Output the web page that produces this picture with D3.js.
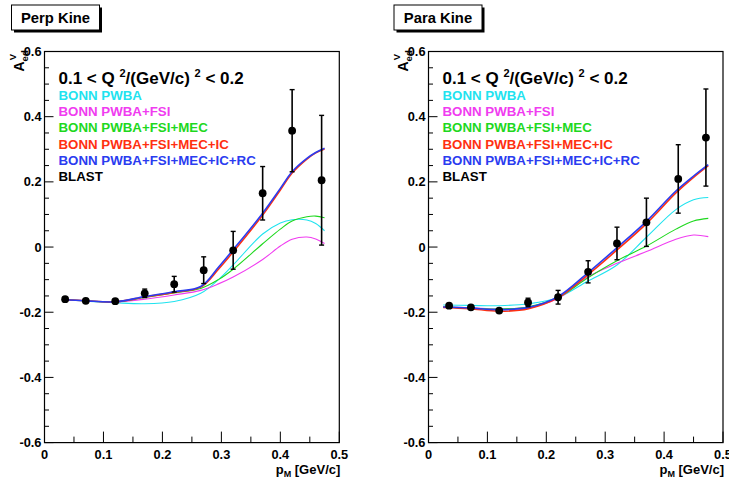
<!DOCTYPE html>
<html>
<head>
<meta charset="utf-8">
<script src="https://cdn.jsdelivr.net/npm/d3@7"></script>
<style>
  html, body { margin: 0; padding: 0; background: #fff; }
  svg { display: block; font-family: "Liberation Sans", Arial, Helvetica, sans-serif; font-weight: bold; }
</style>
</head>
<body>
<div id="chart"></div>
<script>
// ---------------- DATA ----------------
const panelTitles = ["Perp Kine", "Para Kine"];
const legendHeader = ["0.1 < Q ", "2", "/(GeV/c)  ", "2", " < 0.2"];
const seriesNames = ["BONN PWBA", "BONN PWBA+FSI", "BONN PWBA+FSI+MEC", "BONN PWBA+FSI+MEC+IC", "BONN PWBA+FSI+MEC+IC+RC", "BLAST"];
const seriesColors = ["#1fe3ef", "#f03cf0", "#1ed81e", "#ff3010", "#2a3cf0", "#000000"];

const yTickValues = [-0.6, -0.4, -0.2, 0, 0.2, 0.4, 0.6];
const yTickLabels = ["-0.6", "-0.4", "-0.2", "0", "0.2", "0.4", "0.6"];
const xTickValues = [0, 0.1, 0.2, 0.3, 0.4, 0.5];
const xTickLabels = ["0", "0.1", "0.2", "0.3", "0.4", "0.5"];

// Perp kinematics: BLAST data
const perpP   = [0.035, 0.07, 0.12, 0.17, 0.22, 0.27, 0.32, 0.37, 0.42, 0.47];
const perpA   = [-0.160, -0.165, -0.166, -0.142, -0.114, -0.071, -0.010, 0.165, 0.357, 0.205];
const perpErr = [0.004, 0.004, 0.004, 0.013, 0.024, 0.041, 0.058, 0.082, 0.126, 0.199];
// Perp kinematics: BONN curves
const perpCurveP   = [0.03, 0.07, 0.12, 0.17, 0.22, 0.265, 0.295, 0.32, 0.37, 0.40, 0.42, 0.445, 0.46, 0.475];
const perpPWBA     = [-0.161, -0.166, -0.171, -0.174, -0.167, -0.142, -0.100, -0.055, 0.040, 0.074, 0.084, 0.083, 0.072, 0.050];
const perpFSI      = [-0.161, -0.165, -0.168, -0.160, -0.147, -0.133, -0.113, -0.092, -0.038, 0.003, 0.024, 0.031, 0.025, 0.011];
const perpMEC      = [-0.161, -0.165, -0.168, -0.155, -0.141, -0.127, -0.100, -0.068, 0.010, 0.055, 0.080, 0.093, 0.095, 0.090];
const perpIC       = [-0.161, -0.165, -0.168, -0.153, -0.139, -0.123, -0.068, -0.015, 0.098, 0.175, 0.227, 0.270, 0.289, 0.301];
const perpRC       = [-0.161, -0.165, -0.168, -0.152, -0.137, -0.121, -0.062, -0.008, 0.104, 0.180, 0.231, 0.272, 0.290, 0.303];

// Para kinematics: BLAST data
const paraP   = [0.035, 0.072, 0.12, 0.169, 0.22, 0.271, 0.32, 0.37, 0.424, 0.471];
const paraA   = [-0.180, -0.185, -0.195, -0.170, -0.154, -0.076, 0.011, 0.076, 0.209, 0.336];
const paraErr = [0.004, 0.004, 0.005, 0.013, 0.021, 0.034, 0.050, 0.074, 0.105, 0.149];
// Para kinematics: BONN curves
const paraCurveP = [0.025, 0.07, 0.12, 0.17, 0.22, 0.27, 0.32, 0.37, 0.42, 0.45, 0.475];
const paraPWBA   = [-0.178, -0.179, -0.180, -0.174, -0.155, -0.105, -0.055, 0.030, 0.115, 0.145, 0.152];
const paraFSI    = [-0.184, -0.186, -0.190, -0.185, -0.158, -0.092, -0.050, -0.014, 0.024, 0.037, 0.032];
const paraMEC    = [-0.184, -0.187, -0.190, -0.183, -0.155, -0.095, -0.042, 0.003, 0.055, 0.080, 0.088];
const paraIC     = [-0.185, -0.189, -0.197, -0.189, -0.155, -0.086, -0.009, 0.072, 0.166, 0.214, 0.250];
const paraRC     = [-0.184, -0.187, -0.192, -0.185, -0.152, -0.080, -0.002, 0.079, 0.172, 0.218, 0.253];

// ---------------- DRAW ----------------
const W = 729, H = 483;
const svg = d3.select("#chart").append("svg").attr("width", W).attr("height", H);

const panels = [
  { title: panelTitles[0], left: 44.5, right: 339.3, boxX: 11.5,
    p: perpP, a: perpA, err: perpErr, cp: perpCurveP,
    curves: [perpPWBA, perpFSI, perpMEC, perpIC, perpRC] },
  { title: panelTitles[1], left: 428.5, right: 723, boxX: 394,
    p: paraP, a: paraA, err: paraErr, cp: paraCurveP,
    curves: [paraPWBA, paraFSI, paraMEC, paraIC, paraRC] }
];
const plotTop = 51.5, plotBottom = 442.6;

panels.forEach(P => {
  const g = svg.append("g");
  const x = d3.scaleLinear().domain([0, 0.5]).range([P.left, P.right]);
  const y = d3.scaleLinear().domain([-0.6, 0.6]).range([plotBottom, plotTop]);

  // title box with shadow
  g.append("rect").attr("x", P.boxX + 2.5).attr("y", 7.5).attr("width", 88).attr("height", 25).attr("fill", "#000");
  g.append("rect").attr("x", P.boxX).attr("y", 5).attr("width", 88).attr("height", 25)
    .attr("fill", "#fff").attr("stroke", "#000").attr("stroke-width", 1);
  g.append("text").attr("x", P.boxX + 44).attr("y", 22.5).attr("text-anchor", "middle")
    .attr("font-size", 14.8).text(P.title);

  // frame
  g.append("rect").attr("x", P.left).attr("y", plotTop).attr("width", P.right - P.left).attr("height", plotBottom - plotTop)
    .attr("fill", "none").attr("stroke", "#000").attr("stroke-width", 1.2);

  // y axis ticks
  const yMinor = d3.range(-0.6, 0.6001, 0.05);
  g.append("g").selectAll("line").data(yMinor).join("line")
    .attr("x1", P.left).attr("x2", d => P.left + (Math.abs(Math.round(d * 100) % 20) === 0 ? 9 : 4.5))
    .attr("y1", d => y(d)).attr("y2", d => y(d)).attr("stroke", "#000").attr("stroke-width", 1);
  g.append("g").selectAll("text").data(yTickValues).join("text")
    .attr("x", P.left - 3).attr("y", d => y(d) + 4.5).attr("text-anchor", "end")
    .attr("font-size", 12.8).text((d, i) => yTickLabels[i]);

  // x axis ticks
  const xMinor = d3.range(0, 0.5001, 0.05);
  g.append("g").selectAll("line").data(xMinor).join("line")
    .attr("x1", d => x(d)).attr("x2", d => x(d))
    .attr("y1", plotBottom).attr("y2", d => plotBottom - (Math.round(d * 100) % 10 === 0 ? 11 : 6))
    .attr("stroke", "#000").attr("stroke-width", 1);
  g.append("g").selectAll("text").data(xTickValues).join("text")
    .attr("x", d => x(d)).attr("y", 458.5).attr("text-anchor", "middle")
    .attr("font-size", 12.8).text((d, i) => xTickLabels[i]);

  // x axis title
  const xt = g.append("text").attr("x", P.right + 1).attr("y", 473.5).attr("text-anchor", "end").attr("font-size", 13);
  xt.append("tspan").text("p");
  xt.append("tspan").attr("font-size", 9).attr("dy", 3).text("M");
  xt.append("tspan").attr("dy", -3).text(" [GeV/c]");

  // y axis title
  const yt = g.append("text").attr("transform", `translate(${P.left - 20.5},${plotTop + 20}) rotate(-90)`)
    .attr("text-anchor", "start").attr("font-size", 14);
  yt.append("tspan").text("A");
  yt.append("tspan").attr("font-size", 9.5).attr("dy", 3.5).text("ed");
  yt.append("tspan").attr("font-size", 9.5).attr("dx", -10).attr("dy", -12).text("V");

  // legend
  const lx = P.left + 14;
  const lh = g.append("text").attr("x", lx).attr("y", 84).attr("font-size", 17);
  lh.append("tspan").text(legendHeader[0]);
  lh.append("tspan").attr("font-size", 11).attr("dy", -7).text(legendHeader[1]);
  lh.append("tspan").attr("dy", 7).text(legendHeader[2]);
  lh.append("tspan").attr("font-size", 11).attr("dy", -7).text(legendHeader[3]);
  lh.append("tspan").attr("dy", 7).text(legendHeader[4]);
  g.append("g").selectAll("text").data(seriesNames).join("text")
    .attr("x", lx).attr("y", (d, i) => 100 + i * 16.2).attr("font-size", 13.3)
    .attr("fill", (d, i) => seriesColors[i]).text(d => d);

  // curves
  const line = d3.line().x(d => x(d[0])).y(d => y(d[1])).curve(d3.curveCatmullRom.alpha(0.5));
  P.curves.forEach((vals, k) => {
    g.append("path").datum(P.cp.map((p, i) => [p, vals[i]]))
      .attr("d", line).attr("fill", "none").attr("stroke", seriesColors[k])
      .attr("stroke-width", k >= 3 ? 1.6 : 1.1);
  });

  // data points with error bars
  const pts = P.p.map((p, i) => ({ p, a: P.a[i], e: P.err[i] }));
  const dg = g.append("g");
  dg.selectAll("line.eb").data(pts).join("line").attr("class", "eb")
    .attr("x1", d => x(d.p)).attr("x2", d => x(d.p))
    .attr("y1", d => y(d.a - d.e)).attr("y2", d => y(d.a + d.e))
    .attr("stroke", "#000").attr("stroke-width", 1.6);
  [1, -1].forEach(s => {
    dg.selectAll("line.cap" + (s > 0 ? "u" : "d")).data(pts.filter(d => d.e > 0.008)).join("line")
      .attr("class", "cap" + (s > 0 ? "u" : "d"))
      .attr("x1", d => x(d.p) - 2.5).attr("x2", d => x(d.p) + 2.5)
      .attr("y1", d => y(d.a + s * d.e)).attr("y2", d => y(d.a + s * d.e))
      .attr("stroke", "#000").attr("stroke-width", 1.4);
  });
  dg.selectAll("circle").data(pts).join("circle")
    .attr("cx", d => x(d.p)).attr("cy", d => y(d.a)).attr("r", 3.9).attr("fill", "#000");
});
</script>
</body>
</html>
